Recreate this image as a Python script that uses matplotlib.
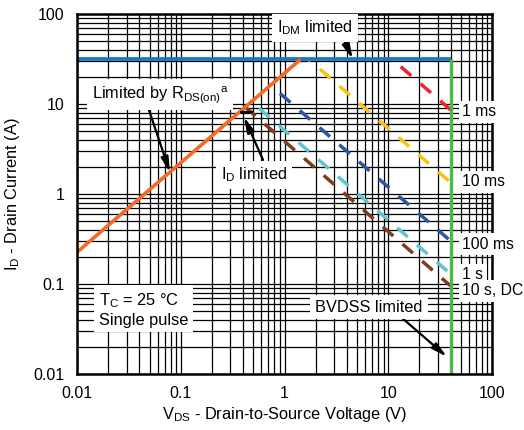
import matplotlib
matplotlib.use("Agg")
import matplotlib.pyplot as plt

plt.rcParams['font.family'] = ['Liberation Sans', 'DejaVu Sans']
plt.rcParams['mathtext.fontset'] = 'custom'
plt.rcParams['mathtext.rm'] = 'Liberation Sans'
plt.rcParams['mathtext.it'] = 'Liberation Sans:italic'
plt.rcParams['mathtext.bf'] = 'Liberation Sans:bold'
plt.rcParams['lines.scale_dashes'] = False

# ---- data ----
x_ticks = [0.01, 0.1, 1, 10, 100]
x_tick_labels = ['0.01', '0.1', '1', '10', '100']
y_ticks = [0.01, 0.1, 1, 10, 100]
y_tick_labels = ['0.01', '0.1', '1', '10', '100']

idm_limit = 31.4          # A
bvdss_limit = 40.0        # V
idm_v = [0.01, 40.0]
rds_v = [0.01, 1.43]
rds_i = [0.225, 31.4]
id_lim_v = [0.37, 0.50]
id_lim_i = [8.05, 8.05]

pulse_labels = ['1 ms', '10 ms', '100 ms', '1 s', '10 s, DC']
pulse_v_start = [13.2, 1.70, 0.905, 0.568, 0.416]
pulse_i_start = [26.0, 31.5, 13.1, 8.96, 9.3]
pulse_v_end = [40.0, 40.0, 40.0, 40.0, 40.0]
pulse_i_end = [8.6, 1.34, 0.30, 0.129, 0.095]
pulse_colors = ['#ee2228', '#fcc210', '#2b58a2', '#5cc6d2', '#7e3d1c']
pulse_offsets = [0, 8, 0, 0, 0]
label_y = [8.15, 1.36, 0.278, 0.126, 0.0843]

fig = plt.figure(figsize=(5.24, 4.30), dpi=100)
ax = fig.add_axes([77/524, 1-374/430, 415/524, 360/430])
ax.set_xscale('log')
ax.set_yscale('log')
ax.set_xlim(0.01, 100)
ax.set_ylim(0.01, 100)

ax.grid(which='both', color='black', lw=0.9, zorder=0)
ax.set_axisbelow(True)
ax.set_xticks(x_ticks)
ax.set_xticklabels(x_tick_labels)
ax.set_yticks(y_ticks)
ax.set_yticklabels(y_tick_labels)
ax.tick_params(which='both', length=0, labelsize=11.5, pad=9)
for s in ax.spines.values():
    s.set_linewidth(1.8)
    s.set_zorder(6)

# pulse lines (dashed)
for vs, is_, ve, ie, c, off in zip(pulse_v_start, pulse_i_start, pulse_v_end,
                                   pulse_i_end, pulse_colors, pulse_offsets):
    ax.plot([vs, ve], [is_, ie], color=c, lw=2.5,
            linestyle=(off, (10, 8.8)), dash_capstyle='butt', zorder=3)

# limits
ax.plot(idm_v, [idm_limit, idm_limit], color='#1c76bd', lw=2.7, zorder=4, solid_capstyle='butt')
ax.plot(rds_v, rds_i, color='#f26a24', lw=2.6, zorder=5, solid_capstyle='butt')
ax.plot([bvdss_limit, bvdss_limit], [0.01, idm_limit], color='#4db84a', lw=2.4, zorder=5,
        solid_capstyle='butt')
ax.plot(id_lim_v, id_lim_i, color='black', lw=1.6, zorder=5, solid_capstyle='butt')

box = dict(facecolor='white', edgecolor='none', pad=3.5)
tk = dict(fontsize=11.8, zorder=8, bbox=box, clip_on=False)
ap = dict(arrowstyle='-|>,head_length=0.9,head_width=0.22', color='black', lw=1.6,
          shrinkA=0, shrinkB=0)

# pulse labels
for lab, yv in zip(pulse_labels, label_y):
    ax.text(51.5, yv, lab, ha='left', va='center', fontsize=11.3, zorder=8,
            bbox=dict(facecolor='white', edgecolor='none', pad=2.5), clip_on=False)

ax.text(1.97, 70, r'I$_{\rm DM}$ limited', ha='center', va='center', **tk)
ax.annotate('', xy=(4.54, 31.6), xytext=(3.83, 48.9), arrowprops=ap, zorder=7)

ax.text(0.01386, 12.6, r'Limited by R$_{\rm DS(on)}$$^{\rm a}$', ha='left', va='center', **tk)
ax.annotate('', xy=(0.0788, 1.73), xytext=(0.0483, 9.26), arrowprops=ap, zorder=7)

ax.text(0.508, 1.63, r'I$_{\rm D}$ limited', ha='center', va='center', **tk)
ax.annotate('', xy=(0.407, 7.17), xytext=(0.621, 2.39), arrowprops=ap, zorder=7)

ax.text(6.52, 0.0555, 'BVDSS limited', ha='center', va='center', **tk)
ax.annotate('', xy=(36.8, 0.0155), xytext=(13.6, 0.0419), arrowprops=ap, zorder=7)

ax.text(0.0163, 0.0521, 'T$_{\\rm C}$ = 25 °C\nSingle pulse', ha='left', va='center',
        linespacing=1.2, **tk)

ax.set_xlabel(r'V$_{\rm DS}$ - Drain-to-Source Voltage (V)', fontsize=11.8)
ax.set_ylabel(r'I$_{\rm D}$ - Drain Current (A)', fontsize=11.8)
ax.xaxis.set_label_coords(0.5, -0.087)
ax.yaxis.set_label_coords(-0.132, 0.5)

fig.savefig('out.png', dpi=100)
